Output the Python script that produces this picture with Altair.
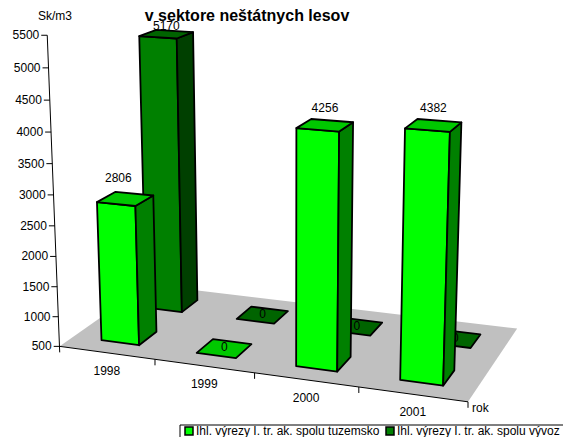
import numpy as np
import pandas as pd
import altair as alt

# ---- data
YEARS = ["1998", "1999", "2000", "2001"]
SERIES = ["Ihl. výrezy I. tr. ak. spolu tuzemsko", "Ihl. výrezy I. tr. ak. spolu vývoz"]
TUZEMSKO = [2806, 0, 4256, 4382]
VYVOZ = [5170, 0, 0, 0]
AXIS_TICKS = [500, 1000, 1500, 2000, 2500, 3000, 3500, 4000, 4500, 5000, 5500]
TITLE = "v sektore neštátnych lesov"
Y_TITLE = "Sk/m3"
X_TITLE = "rok"

# ---- colours: (front, side, top)
FRONT_COLORS = ("#00ff00", "#008000", "#00c800")
BACK_COLORS = ("#008000", "#004000", "#006400")
FLOOR_COLOR = "#c0c0c0"
FONT = "Liberation Sans"

BASE = 500
OFF = 8  # page margin
U0, U1 = 0.30, 0.70
ROWS = {"front": (0.145, 0.345), "back": (0.655, 0.855)}
LABEL_NUDGE = {"2806": (-7, -4)}

# ---- camera calibration: (category pos, depth, height above base) seen at (px, py)
CALIBRATION = [
    (0, 0, 0, 59, 346), (4, 0, 0, 467, 403), (4, 1, 0, 517, 328),
    (1, 0, 0, 155, 360), (2, 0, 0, 255, 373), (3, 0, 0, 358, 388),
    (0, 0, 5000, 47.5, 35), (0, 0, 2500, 53, 194),
    (.3, .145, 0, 101, 340), (.7, .145, 0, 139, 345), (.7, .345, 0, 157, 332),
    (1.3, .145, 0, 197, 352), (1.7, .145, 0, 237, 358), (1.7, .345, 0, 252, 344), (1.3, .345, 0, 213, 339),
    (2.3, .145, 0, 296, 366), (2.7, .145, 0, 337, 371), (2.7, .345, 0, 351, 357),
    (3.3, .145, 0, 401, 380), (3.7, .145, 0, 443, 385), (3.7, .345, 0, 454, 370),
    (.7, .655, 0, 182, 312), (.7, .855, 0, 197, 300),
    (1.3, .655, 0, 236, 319), (1.7, .655, 0, 275, 324), (1.3, .855, 0, 251, 307), (1.7, .855, 0, 287, 311),
    (2.7, .655, 0, 370, 336), (2.7, .855, 0, 382, 323), (3.7, .655, 0, 471, 348), (3.7, .855, 0, 481, 334),
    (.3, .145, 2306, 97, 202), (.7, .145, 2306, 136, 207), (.7, .345, 2306, 154, 196), (.3, .345, 2306, 116, 192),
    (2.3, .145, 3756, 296, 128), (2.7, .145, 3756, 339, 132), (2.7, .345, 3756, 353, 122), (2.3, .345, 3756, 311, 119),
    (3.3, .145, 3882, 404, 128), (3.7, .145, 3882, 450, 132), (3.7, .345, 3882, 462, 122), (3.3, .345, 3882, 418, 119),
    (.3, .655, 4670, 139, 36), (.7, .655, 4670, 177, 39), (.7, .855, 4670, 193, 32), (.3, .855, 4670, 156, 30),
]


def fit_camera():
    A, b = [], []
    for u, v, z, x, y in CALIBRATION:
        z = z / 1000
        A.append([u, v, z, 1, 0, 0, 0, 0, -x * u, -x * v, -x * z]); b.append(x)
        A.append([0, 0, 0, 0, u, v, z, 1, -y * u, -y * v, -y * z]); b.append(y)
    return np.linalg.lstsq(np.array(A, float), np.array(b, float), rcond=None)[0]


P = fit_camera()


def proj(u, v, val=BASE):
    z = (val - BASE) / 1000
    w = P[8] * u + P[9] * v + P[10] * z + 1
    x = (P[0] * u + P[1] * v + P[2] * z + P[3]) / w
    y = (P[4] * u + P[5] * v + P[6] * z + P[7]) / w
    return [float(x - OFF), float(y - OFF)]


def poly(points, fill):
    ring = [list(p) for p in points] + [list(points[0])]
    return {"type": "Feature", "properties": {"fill": fill},
            "geometry": {"type": "Polygon", "coordinates": [ring]}}


def bar(i, val, row, colors):
    a, b = i + U0, i + U1
    v0, v1 = ROWS[row]
    if val == 0:
        return [poly([proj(a, v0), proj(b, v0), proj(b, v1), proj(a, v1)], colors[2])]
    return [
        poly([proj(a, v0), proj(b, v0), proj(b, v0, val), proj(a, v0, val)], colors[0]),
        poly([proj(b, v0), proj(b, v1), proj(b, v1, val), proj(b, v0, val)], colors[1]),
        poly([proj(a, v0, val), proj(b, v0, val), proj(b, v1, val), proj(a, v1, val)], colors[2]),
    ]


def label_rows(values, row):
    out = []
    v0, v1 = ROWS[row]
    for i, val in enumerate(values):
        x, y = proj(i + 0.5, (v0 + v1) / 2, val if val else BASE)
        if val:
            dx, dy = LABEL_NUDGE.get(str(val), (0, 0))
            x += dx
            y = max(y - 17 + dy, 26 - OFF)  # stays clear of the title
        else:
            y -= 1
        out.append({"x": x, "y": y, "t": str(val)})
    return out


def geo_layer(features, **kw):
    return (alt.Chart(alt.Data(values=features))
            .mark_geoshape(**kw)
            .encode(fill=alt.Fill("properties.fill:N", scale=None))
            .project(type="identity", scale=1, translate=[0, 0]))


def text_layer(rows, size=12, **kw):
    return (alt.Chart(pd.DataFrame(rows))
            .mark_text(font=FONT, fontSize=size, color="#000000", **kw)
            .encode(x=alt.X("x:Q", scale=None, axis=None),
                    y=alt.Y("y:Q", scale=None, axis=None),
                    text="t:N"))


def rule_layer(rows, width=1.0):
    return (alt.Chart(pd.DataFrame(rows))
            .mark_rule(color="#000000", strokeWidth=width)
            .encode(x=alt.X("x:Q", scale=None, axis=None), x2="x2:Q",
                    y=alt.Y("y:Q", scale=None, axis=None), y2="y2:Q"))


STROKE = dict(stroke="#000000", strokeWidth=1.8, strokeJoin="round")

floor = geo_layer([poly([proj(0, 0), proj(4, 0), proj(4, 1), proj(0, 1)], FLOOR_COLOR)], strokeWidth=0)
back_feats, front_feats = [], []
for i in range(4):
    back_feats += bar(i, VYVOZ[i], "back", BACK_COLORS)
    front_feats += bar(i, TUZEMSKO[i], "front", FRONT_COLORS)

back_layer = geo_layer(back_feats, **STROKE)
front_layer = geo_layer(front_feats, **STROKE)

back_zero = [r for r in label_rows(VYVOZ, "back") if r["t"] == "0"]
front_zero = [r for r in label_rows(TUZEMSKO, "front") if r["t"] == "0"]
value_labels = [r for r in label_rows(TUZEMSKO, "front") + label_rows(VYVOZ, "back") if r["t"] != "0"]

# axis lines
ax_rows = []
p0, p1 = proj(0, 0, AXIS_TICKS[0]), proj(0, 0, AXIS_TICKS[-1])
ax_rows.append({"x": p0[0], "y": p0[1] + 6, "x2": p1[0], "y2": p1[1]})
pr = proj(4, 0)
ax_rows.append({"x": p0[0], "y": p0[1], "x2": pr[0], "y2": pr[1]})
ytick_labels = []
for t in AXIS_TICKS:
    x, y = proj(0, 0, t)
    ax_rows.append({"x": x - 6, "y": y, "x2": x, "y2": y})
    ytick_labels.append({"x": x - 8, "y": y, "t": str(t)})
for i in range(1, 5):
    x, y = proj(i, 0)
    ax_rows.append({"x": x, "y": y, "x2": x, "y2": y + 6})
xtick_labels = []
for i, yr in enumerate(YEARS):
    x, y = proj(i + 0.5, 0)
    xtick_labels.append({"x": x, "y": y + 18, "t": yr})

# legend
box = (alt.Chart(pd.DataFrame([{"x": 180 - OFF, "x2": 600 - OFF, "y": 425 - OFF, "y2": 470 - OFF}]))
       .mark_rect(fill="#ffffff", stroke="#000000", strokeWidth=1)
       .encode(x=alt.X("x:Q", scale=None, axis=None), x2="x2:Q",
               y=alt.Y("y:Q", scale=None, axis=None), y2="y2:Q"))
swatches = (alt.Chart(pd.DataFrame([
        {"x": 185 - OFF, "x2": 193 - OFF, "y": 427 - OFF, "y2": 435 - OFF, "c": FRONT_COLORS[0]},
        {"x": 386 - OFF, "x2": 394 - OFF, "y": 427 - OFF, "y2": 435 - OFF, "c": BACK_COLORS[0]}]))
       .mark_rect(stroke="#000000", strokeWidth=1.5)
       .encode(x=alt.X("x:Q", scale=None, axis=None), x2="x2:Q",
               y=alt.Y("y:Q", scale=None, axis=None), y2="y2:Q",
               fill=alt.Fill("c:N", scale=None)))
legend_text = text_layer([{"x": 196 - OFF, "y": 431 - OFF, "t": SERIES[0]},
                          {"x": 397 - OFF, "y": 431 - OFF, "t": SERIES[1]}], size=12, align="left", baseline="middle")

chart = alt.layer(
    floor,
    back_layer,
    text_layer(back_zero, baseline="middle"),
    front_layer,
    text_layer(front_zero, baseline="middle"),
    rule_layer(ax_rows),
    text_layer(ytick_labels, align="right", baseline="middle"),
    text_layer(xtick_labels, align="center", baseline="middle"),
    text_layer(value_labels, align="center", baseline="middle"),
    text_layer([{"x": 55 - OFF, "y": 15 - OFF + 1, "t": Y_TITLE}], align="center", baseline="middle"),
    text_layer([{"x": 472 - OFF, "y": 408 - OFF, "t": X_TITLE}], align="left", baseline="middle"),
    (alt.Chart(pd.DataFrame([{"x": 247 - OFF, "y": 0, "t": TITLE}]))
     .mark_text(font=FONT, fontSize=16, fontWeight="bold", color="#000000", align="center", baseline="top")
     .encode(x=alt.X("x:Q", scale=None, axis=None), y=alt.Y("y:Q", scale=None, axis=None), text="t:N")),
    box, swatches, legend_text,
).properties(width=555, height=429, padding=0, autosize=alt.AutoSizeParams(type="none"),
             background="#ffffff").configure_view(stroke=None)

chart.save("out.html", embed_options={"renderer": "svg", "actions": False})
